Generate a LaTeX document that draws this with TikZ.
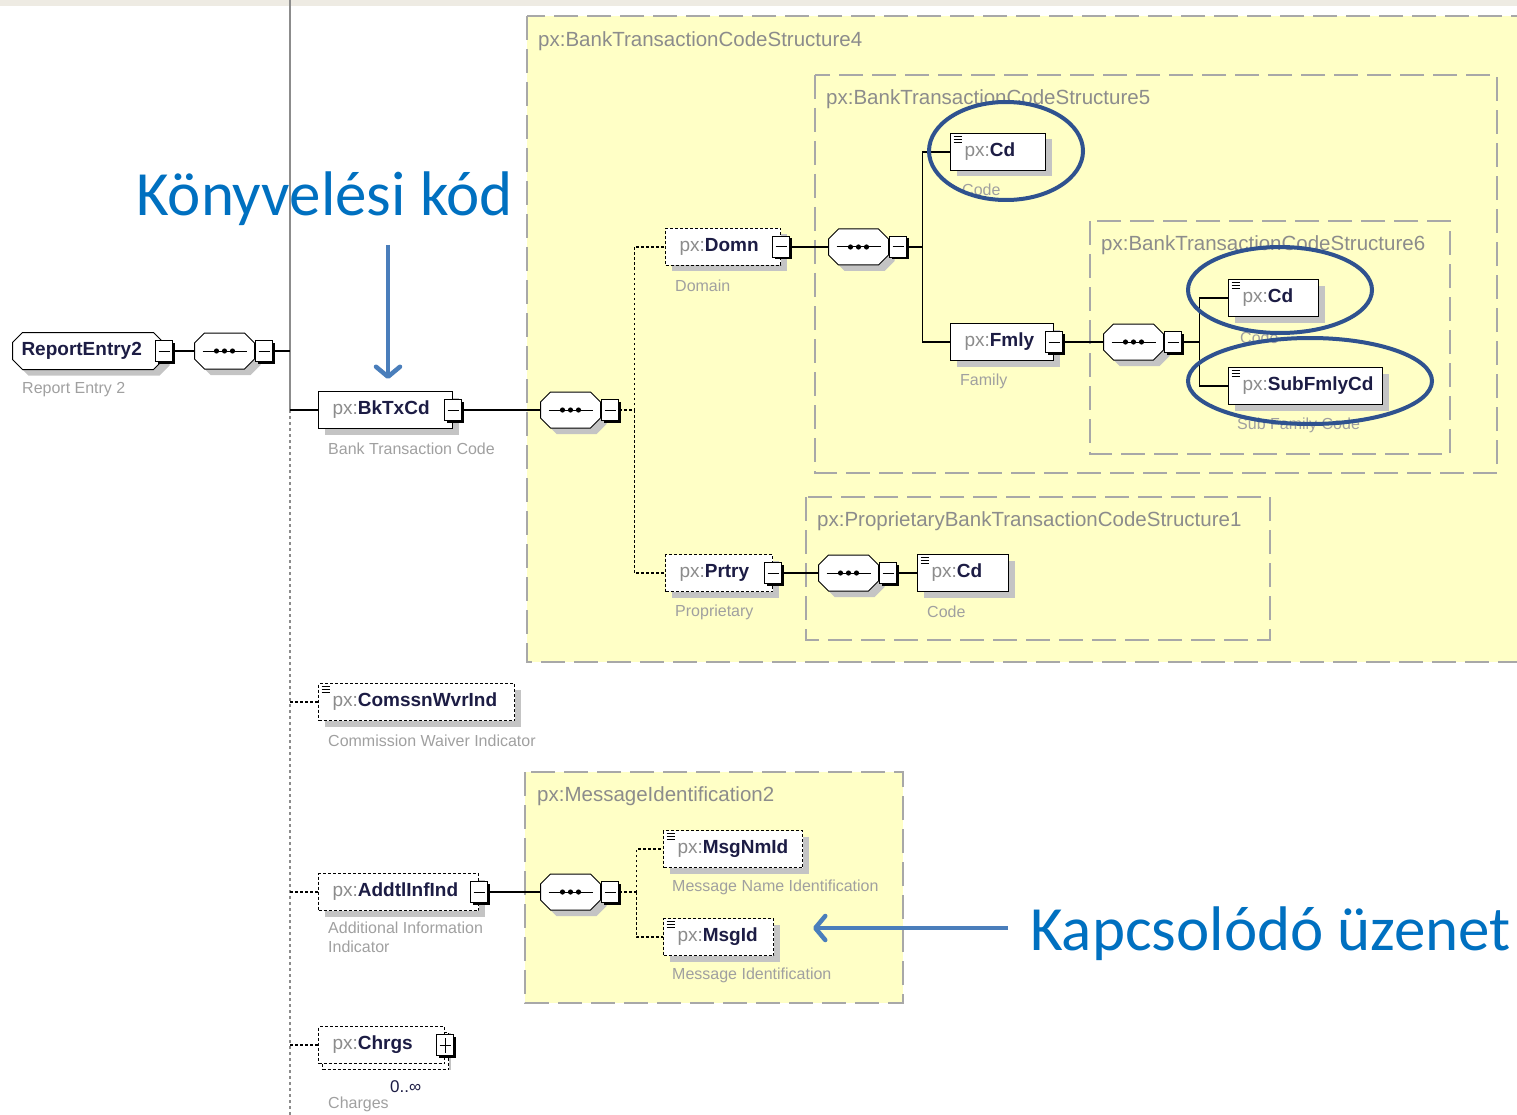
\documentclass[tikz,border=0pt]{standalone}
\usepackage{fontspec}
\setmainfont{Liberation Sans}
\newfontfamily\calib{Carlito}
\usetikzlibrary{shapes.misc,shadows,arrows.meta}

\definecolor{sargabg}{HTML}{FFFFC6}
\definecolor{keretszurke}{HTML}{A8A8A8}
\definecolor{pxszurke}{HTML}{8C8C8C}
\definecolor{nevszin}{HTML}{1C1C44}
\definecolor{leirszurke}{HTML}{A0A0A0}
\definecolor{kekszoveg}{HTML}{0070C0}
\definecolor{kekny}{HTML}{4A7EBB}
\definecolor{gyuru}{HTML}{2F528F}
\definecolor{felsosav}{HTML}{EEEBE3}
\definecolor{arnyek}{HTML}{C4C4C4}

\newcommand{\px}[1]{\mbox{\textcolor{pxszurke}{px:}\textcolor{nevszin}{\bfseries #1}}}

\tikzset{
  elem/.style={draw=black, line width=1pt, fill=white, anchor=west,
    minimum height=37pt, inner xsep=14pt, inner ysep=0pt, text width=#1, align=left,
    font=\fontsize{19}{22}\selectfont,
    drop shadow={shadow xshift=6pt, shadow yshift=-6pt, fill=arnyek, opacity=1}},
  optelem/.style={elem=#1, dash pattern=on 3pt off 2pt},
  leaf/.style={path picture={\foreach \d in {3,6,9}
      \draw[line width=1pt, solid, black] ([shift={(3,\d)}]path picture bounding box.north west) -- ++(8,0);}},
  gyoker/.style={chamfered rectangle, chamfered rectangle xsep=5pt, chamfered rectangle ysep=5pt,
    draw=black, line width=1pt, fill=white, anchor=west, minimum height=37pt,
    inner xsep=4pt, inner ysep=4pt, text width=133pt, text=nevszin,
    font=\fontsize{19}{22}\selectfont\bfseries,
    drop shadow={shadow xshift=6pt, shadow yshift=-6pt, fill=arnyek, opacity=1}},
  tog/.style={draw=black, line width=1.2pt, fill=white, solid, minimum width=17pt,
    minimum height=21pt, inner sep=0pt,
    drop shadow={shadow xshift=2pt, shadow yshift=-2pt, fill=black, opacity=1},
    path picture={\draw[line width=1pt] ([xshift=3pt]path picture bounding box.west)
      -- ([xshift=-3pt]path picture bounding box.east);}},
  togplus/.style={tog, path picture={\draw[line width=1pt]
      ([xshift=3pt]path picture bounding box.west) -- ([xshift=-3pt]path picture bounding box.east)
      ([yshift=3pt]path picture bounding box.south) -- ([yshift=-3pt]path picture bounding box.north);}},
  seq/.style={chamfered rectangle, chamfered rectangle xsep=8pt, chamfered rectangle ysep=2pt,
    draw=black, line width=1pt, fill=white, anchor=west, inner xsep=22pt, inner ysep=16pt,
    drop shadow={shadow xshift=6pt, shadow yshift=-6pt, fill=arnyek, opacity=1},
    path picture={\draw[line width=1pt, black] ([xshift=8pt]path picture bounding box.west)
      -- ([xshift=-8pt]path picture bounding box.east);
      \foreach \i in {-8,0,8} \fill[black] ([shift={(\i,0)}]path picture bounding box.center) circle (2.6pt);}},
  keret/.style={draw=keretszurke, line width=2pt, dash pattern=on 24pt off 9pt},
  kerlabel/.style={anchor=west, text=pxszurke, font=\fontsize{20.5}{24}\selectfont, inner sep=0pt},
  desc/.style={anchor=west, text=leirszurke, font=\fontsize{16}{19}\selectfont, inner sep=0pt, align=left},
  conn/.style={line width=1.2pt},
  optc/.style={line width=1.2pt, dash pattern=on 2.5pt off 2.5pt},
  torzs/.style={draw=black!45, line width=2.5pt},
  torzspont/.style={torzs, dash pattern=on 3pt off 3pt},
  karika/.style={draw=gyuru, line width=4pt},
  annarr/.style={draw=kekny, line width=4.5pt,
    -{Straight Barb[length=10pt, width=24pt, line cap=round, line join=round]}},
  ann/.style={text=kekszoveg, font=\calib\fontsize{63}{70}\selectfont, inner sep=0pt}
}

\begin{document}
\begin{tikzpicture}[x=1pt, y=-1pt]
  \useasboundingbox (0,0) rectangle (1517,1115);
  \fill[felsosav] (0,0) rectangle (1517,6);

  % keretek
  \filldraw[keret, fill=sargabg] (527,16) rectangle (1540,662);
  \draw[keret] (815,75) rectangle (1497,473);
  \draw[keret] (1090,221) rectangle (1450,454);
  \draw[keret] (806,497) rectangle (1270,640);
  \filldraw[keret, fill=sargabg] (525,772) rectangle (903,1003);
  \node[kerlabel] (s4-l) at (538,41) {px:BankTransactionCodeStructure4};
  \node[kerlabel] (s5-l) at (826,99) {px:BankTransactionCodeStructure5};
  \node[kerlabel] (s6-l) at (1101,245) {px:BankTransactionCodeStructure6};
  \node[kerlabel] (p1-l) at (817,521) {px:ProprietaryBankTransactionCodeStructure1};
  \node[kerlabel] (m2-l) at (537,796) {px:MessageIdentification2};

  \node[ann, anchor=base west] (konyv) at (136,216) {Könyvelési kód};

  % törzsvonal
  \coordinate (tfent) at (290,0);
  \coordinate (tkozep) at (290,410);
  \coordinate (tlent) at (290,1115);
  \draw[torzs] (tfent) -- (tkozep);
  \draw[torzspont] (tkozep) -- (tlent);

  % ReportEntry2
  \node[gyoker] (re) at (12,351) {ReportEntry2};
  \node[tog] (re-t) at (re.east) {};
  \node[desc] (re-d) at (22,390) {Report Entry 2};
  \node[seq] (seqR) at (194,351) {};
  \node[tog, anchor=west] (seqR-t) at (seqR.east) {};
  \draw[conn] (re-t.east) -- (seqR.west);
  \draw[conn] (seqR-t.east) -- (seqR-t.east -| tfent);

  % BkTxCd
  \node[elem=106pt] (bk) at (318,410) {\px{BkTxCd}};
  \node[tog] (bk-t) at (bk.east) {};
  \node[desc] (bk-d) at (328,449) {Bank Transaction Code};
  \node[seq] (seqB) at (540,410) {};
  \node[tog, anchor=west] (seqB-t) at (seqB.east) {};
  \draw[conn] (tkozep) -- (bk.west);
  \draw[conn] (bk-t.east) -- (seqB.west);

  \node[optelem=87pt] (domn) at (665,247) {\px{Domn}};
  \node[tog] (domn-t) at (domn.east) {};
  \node[desc] (domn-d) at (675,286) {Domain};
  \node[optelem=79pt] (prtry) at (665,573) {\px{Prtry}};
  \node[tog] (prtry-t) at (prtry.east) {};
  \node[desc] (prtry-d) at (675,612) {Proprietary};
  \draw[optc] (seqB-t.east) -- ++(15,0) coordinate (agB);
  \draw[optc] (agB) |- (domn.west);
  \draw[optc] (agB) |- (prtry.west);

  % Domn ag
  \node[seq] (seqD) at (828,247) {};
  \node[tog, anchor=west] (seqD-t) at (seqD.east) {};
  \draw[conn] (domn-t.east) -- (seqD.west);
  \node[elem=67pt, leaf] (cd1) at (950,152) {\px{Cd}};
  \node[desc] (cd1-d) at (962,190) {Code};
  \node[elem=75pt] (fmly) at (950,342) {\px{Fmly}};
  \node[tog] (fmly-t) at (fmly.east) {};
  \node[desc] (fmly-d) at (960,381) {Family};
  \draw[conn] (seqD-t.east) -- ++(15,0) coordinate (agD);
  \draw[conn] (agD) |- (cd1.west);
  \draw[conn] (agD) |- (fmly.west);

  % Fmly ag
  \node[seq] (seqF) at (1103,342) {};
  \node[tog, anchor=west] (seqF-t) at (seqF.east) {};
  \draw[conn] (fmly-t.east) -- (seqF.west);
  \node[elem=62pt, leaf] (cd2) at (1228,298) {\px{Cd}};
  \node[desc] (cd2-d) at (1240,338) {Code};
  \node[elem=126pt, leaf] (sub) at (1228,386) {\px{SubFmlyCd}};
  \node[desc] (sub-d) at (1237,425) {Sub Family Code};
  \draw[conn] (seqF-t.east) -- ++(17,0) coordinate (agF);
  \draw[conn] (agF) |- (cd2.west);
  \draw[conn] (agF) |- (sub.west);

  % Prtry ag
  \node[seq] (seqP) at (818,573) {};
  \node[tog, anchor=west] (seqP-t) at (seqP.east) {};
  \draw[conn] (prtry-t.east) -- (seqP.west);
  \node[elem=63pt, leaf] (cd3) at (917,573) {\px{Cd}};
  \node[desc] (cd3-d) at (927,612) {Code};
  \draw[conn] (seqP-t.east) -- (cd3.west);

  % ComssnWvrInd
  \node[optelem=168pt, leaf] (comssn) at (318,702) {\px{ComssnWvrInd}};
  \node[desc] (comssn-d) at (328,741) {Commission Waiver Indicator};
  \draw[optc] (comssn.west -| tfent) -- (comssn.west);

  % AddtlInfInd
  \node[optelem=132pt] (addtl) at (318,892) {\px{AddtlInfInd}};
  \node[tog] (addtl-t) at (addtl.east) {};
  \node[desc, anchor=north west] (addtl-d) at (328,922) {Additional Information\\Indicator};
  \draw[optc] (addtl.west -| tfent) -- (addtl.west);
  \node[seq] (seqA) at (540,892) {};
  \node[tog, anchor=west] (seqA-t) at (seqA.east) {};
  \draw[conn] (addtl-t.east) -- (seqA.west);
  \node[optelem=111pt, leaf] (msgnm) at (663,849) {\px{MsgNmId}};
  \node[desc] (msgnm-d) at (672,887) {Message Name Identification};
  \node[optelem=82pt, leaf] (msgid) at (663,937) {\px{MsgId}};
  \node[desc] (msgid-d) at (672,975) {Message Identification};
  \draw[optc] (seqA-t.east) -- ++(17,0) coordinate (agA);
  \draw[optc] (agA) |- (msgnm.west);
  \draw[optc] (agA) |- (msgid.west);

  % Chrgs
  \node[optelem=98pt, copy shadow={shadow xshift=4pt, shadow yshift=-6pt, draw=black,
    fill=white, dash pattern=on 3pt off 2pt, line width=1pt}] (chrgs) at (318,1045) {\px{Chrgs}};
  \node[togplus] (chrgs-t) at (chrgs.east) {};
  \node[anchor=west, inner sep=0pt, font=\fontsize{17}{20}\selectfont, text=nevszin] (chrgs-n) at (390,1087) {0..∞};
  \node[desc] (chrgs-d) at (328,1104) {Charges};
  \draw[optc] (chrgs.west -| tfent) -- (chrgs.west);

  % karikak
  \draw[karika] (1006,151) ellipse [x radius=77, y radius=49];
  \draw[karika] (1280,290) ellipse [x radius=92, y radius=43];
  \draw[karika] (1310,381) ellipse [x radius=122, y radius=43];

  % nyilak
  \coordinate (nyK1) at (388,245);
  \coordinate (nyK2) at (388,379);
  \draw[annarr] (nyK1) -- (nyK2);
  \node[ann, anchor=base west] (kapcs) at (1030,950) {Kapcsolódó üzenet};
  \coordinate (nyM1) at (1008,928);
  \coordinate (nyM2) at (813,928);
  \draw[annarr] (nyM1) -- (nyM2);
\end{tikzpicture}
\end{document}
